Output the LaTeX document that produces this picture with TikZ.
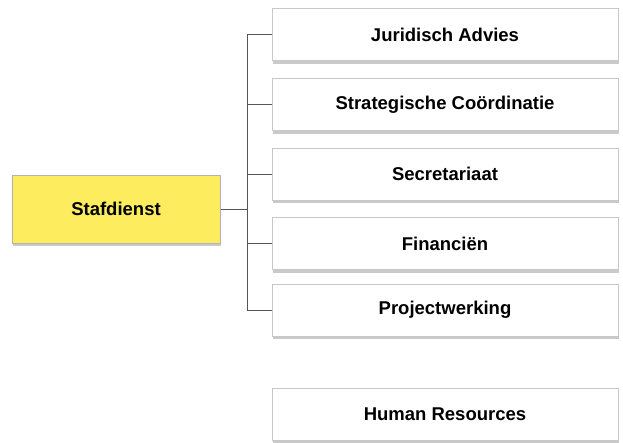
\documentclass[tikz,border=0pt]{standalone}
\usepackage{fontspec}
\setmainfont{Liberation Sans}
\usetikzlibrary{shadows}
\definecolor{stafgeel}{HTML}{FCEC5E}
\definecolor{rand}{HTML}{C8C8C8}
\definecolor{lijn}{HTML}{555555}

\begin{document}
\begin{tikzpicture}[x=1pt,y=-1pt,line width=1pt,
    dienst/.style={draw=rand,fill=white,minimum width=346pt,minimum height=52pt,
      font=\bfseries\fontsize{18.5}{20}\selectfont,
      drop shadow={shadow xshift=1pt,shadow yshift=-3pt,fill=black!35,opacity=.6}},
    staf/.style={dienst,fill=stafgeel,draw=gray!60,minimum width=208pt,minimum height=68pt}]
  \useasboundingbox (0,0) rectangle (623,442);
  %% linkerkant
  \node[staf](S) at (116,209) {Stafdienst};
  \coordinate(bus) at (247,209);
  %% diensten
  \node[dienst](J) at (445,34.5) {Juridisch Advies};
  \node[dienst](C) at (445,104.5) {Strategische Coördinatie};
  \node[dienst](T) at (445,174) {Secretariaat};
  \node[dienst](F) at (445,243.5) {Financiën};
  \node[dienst](P) at (445,310) {Projectwerking};
  \node[dienst](H) at (445,414) {Human Resources};
  %% verbindingen
  \draw[lijn](S)--(bus);
  \draw[lijn](J.west)--(J.west -| bus)--(P.west -| bus)--(P.west);
  \draw[lijn](C.west)--(C.west -| bus);
  \draw[lijn](T.west)--(T.west -| bus);
  \draw[lijn](F.west)--(F.west -| bus);
\end{tikzpicture}
\end{document}
